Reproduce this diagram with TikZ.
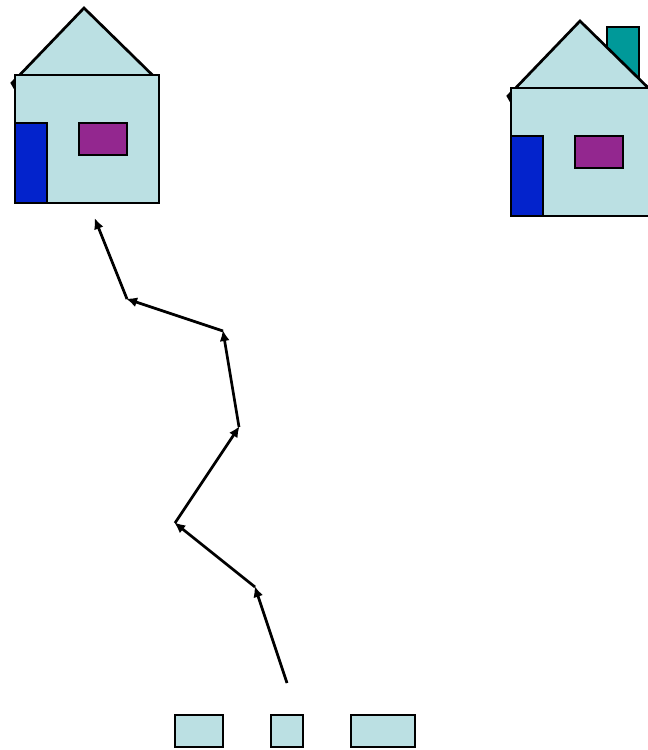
\documentclass[tikz,border=0pt]{standalone}
\usetikzlibrary{arrows.meta}
\definecolor{wallc}{HTML}{BBE0E3}
\definecolor{doorc}{HTML}{0323CC}
\definecolor{winc}{HTML}{93278F}
\definecolor{chimc}{HTML}{009999}
\tikzset{
  outline/.style={draw=black,line width=2.7pt,line join=miter},
  wall/.style={outline,fill=wallc},
  door/.style={outline,fill=doorc},
  pane/.style={outline,fill=winc},
  chimney/.style={outline,fill=chimc},
  pathleg/.style={draw=black,line width=2.7pt,-{Latex[length=11pt,width=10pt]},shorten >=-1pt},
}
\newcommand{\housebody}[2]{%
  \begin{scope}[shift={(#1,#2)}]
    \path[wall] (12,83) -- (84,8) -- (157.5,80) -- (157.5,90) -- (16,90) -- cycle;
    \path[wall] (15,75) rectangle (159,203);
    \path[door] (15,123) rectangle (47,203);
    \path[pane] (79,123) rectangle (127,155);
  \end{scope}}
\begin{document}
\begin{tikzpicture}[x=1pt,y=-1pt]
\useasboundingbox (0,0) rectangle (648,750);
\clip (0,0) rectangle (648,750);
\housebody{0}{0}
\path[chimney] (607,27) rectangle (639,90);
\housebody{496}{13}
\coordinate (p0) at (287,683);
\coordinate (p1) at (255,587);
\coordinate (p2) at (175,523);
\coordinate (p3) at (239,427);
\coordinate (p4) at (223,331);
\coordinate (p5) at (127,299);
\coordinate (p6) at (95,219);
\draw[pathleg] (p0) -- (p1);
\draw[pathleg] (p1) -- (p2);
\draw[pathleg] (p2) -- (p3);
\draw[pathleg] (p3) -- (p4);
\draw[pathleg] (p4) -- (p5);
\draw[pathleg] (p5) -- (p6);
\path[wall] (175,715) rectangle (223,747);
\path[wall] (271,715) rectangle (303,747);
\path[wall] (351,715) rectangle (415,747);
\end{tikzpicture}
\end{document}
